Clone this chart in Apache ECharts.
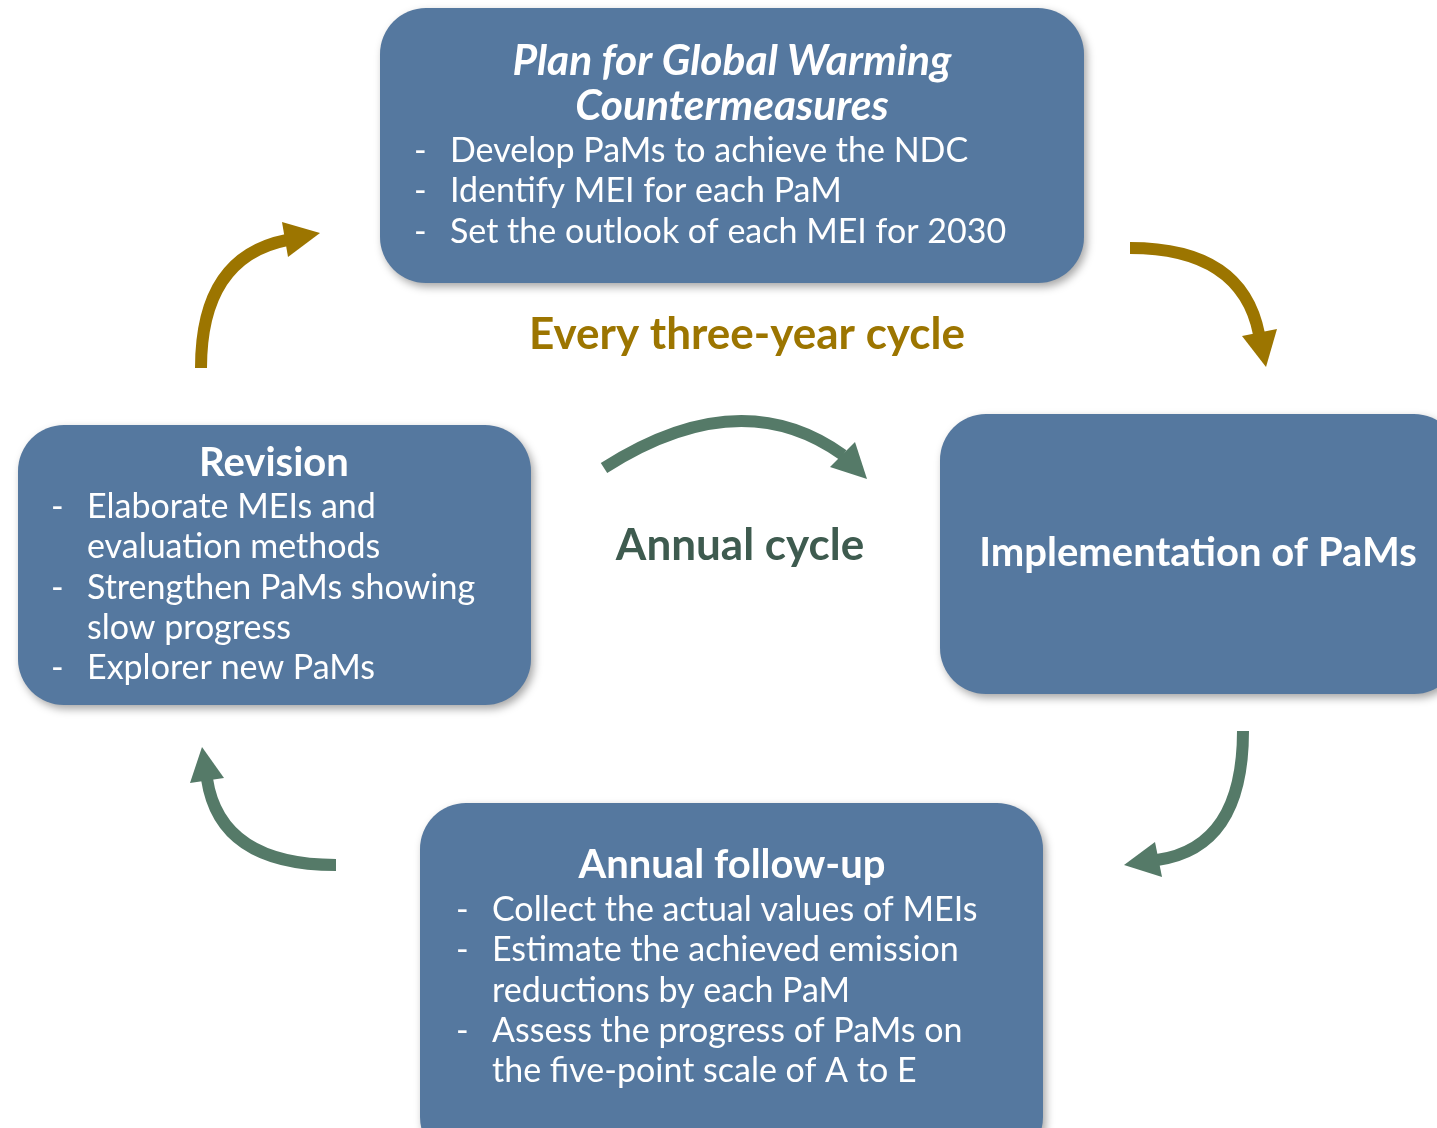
<!DOCTYPE html>
<html>
<head>
<meta charset="utf-8">
<script src="https://cdn.jsdelivr.net/npm/echarts@6/dist/echarts.min.js"></script>
<style>
  html, body { margin: 0; padding: 0; background: #fff; }
  #chart { width: 1437px; height: 1128px; }
</style>
</head>
<body>
<div id="chart"></div>
<script>
// texts of the cycle diagram
const planTitle = ['Plan for Global Warming', 'Countermeasures']
const planItems = [['Develop PaMs to achieve the NDC'], ['Identify MEI for each PaM'], ['Set the outlook of each MEI for 2030']]
const implTitle = 'Implementation of PaMs'
const followTitle = 'Annual follow-up'
const followItems = [['Collect the actual values of MEIs'], ['Estimate the achieved emission', 'reductions by each PaM'], ['Assess the progress of PaMs on', 'the five-point scale of A to E']]
const revisionTitle = 'Revision'
const revisionItems = [['Elaborate MEIs and', 'evaluation methods'], ['Strengthen PaMs showing', 'slow progress'], ['Explorer new PaMs']]
const outerLabel = 'Every three-year cycle'
const innerLabel = 'Annual cycle'

// colours and font
const boxColor = '#55789f'
const gold = '#9c7500'
const green = '#557a68'
const darkGreen = '#3e5b4f'
const FONT = 'Lato, "Open Sans", sans-serif'

function box(x, y, w, h) {
  return {
    type: 'rect',
    shape: { x: x, y: y, width: w, height: h, r: 46 },
    style: { fill: boxColor, shadowBlur: 8, shadowOffsetX: 3, shadowOffsetY: 4, shadowColor: 'rgba(0,0,0,0.35)' }
  }
}

function text(str, x, y, size, opts) {
  opts = opts || {}
  return {
    type: 'text',
    style: {
      text: str, x: x, y: y,
      fill: opts.color || '#fff',
      font: (opts.italic ? 'italic ' : '') + (opts.bold ? 'bold ' : '') + size + 'px ' + FONT,
      align: opts.align || 'center', textAlign: opts.align || 'center',
      verticalAlign: 'middle', textVerticalAlign: 'middle'
    }
  }
}

function bullets(items, dashX, textX, y0, step, size) {
  let out = []
  let y = y0
  items.forEach(lines => {
    out.push(text('-', dashX, y, size, { align: 'left' }))
    lines.forEach(l => {
      out.push(text(l, textX, y, size, { align: 'left' }))
      y += step
    })
  })
  return out
}

function arrow(p0, c, p1, tri, color) {
  return [
    {
      type: 'bezierCurve',
      shape: { x1: p0[0], y1: p0[1], cpx1: c[0], cpy1: c[1], x2: p1[0], y2: p1[1] },
      style: { stroke: color, lineWidth: 12, fill: null }
    },
    { type: 'polygon', shape: { points: tri }, style: { fill: color } }
  ]
}

let elements = []
  .concat([box(380, 8, 704, 275), box(940, 414, 520, 280), box(18, 425, 513, 280), box(420, 803, 623, 360)])
  .concat(arrow([201, 368], [201, 257], [287, 240], [[282, 222], [320, 233], [288, 257]], gold))
  .concat(arrow([1130, 248], [1242, 248], [1259, 334], [[1242, 336], [1277, 329], [1266, 367]], gold))
  .concat(arrow([604, 468], [740, 381], [843, 455], [[830, 467], [855, 442], [867, 479]], green))
  .concat(arrow([1243, 731], [1243, 848], [1157, 860], [[1155, 842], [1124, 865], [1162, 877]], green))
  .concat(arrow([336, 865], [220, 865], [207, 779], [[190, 783], [202, 747], [224, 778]], green))
  .concat([
    text(planTitle[0], 732, 61, 42.5, { bold: true, italic: true }),
    text(planTitle[1], 732, 106, 42.5, { bold: true, italic: true }),
    text(implTitle, 1198, 553, 40, { bold: true }),
    text(followTitle, 732, 865, 40, { bold: true }),
    text(revisionTitle, 274, 463, 40, { bold: true }),
    text(outerLabel, 747, 335, 44, { bold: true, color: gold }),
    text(innerLabel, 740, 546, 44, { bold: true, color: darkGreen })
  ])
  .concat(bullets(planItems, 414, 450, 151, 40.5, 34))
  .concat(bullets(revisionItems, 51, 87, 507, 40.3, 34))
  .concat(bullets(followItems, 456, 492, 910, 40.3, 34))

let chart = echarts.init(document.getElementById('chart'))
chart.setOption({
  backgroundColor: '#fff',
  animation: false,
  graphic: { elements: elements }
})
</script>
</body>
</html>
